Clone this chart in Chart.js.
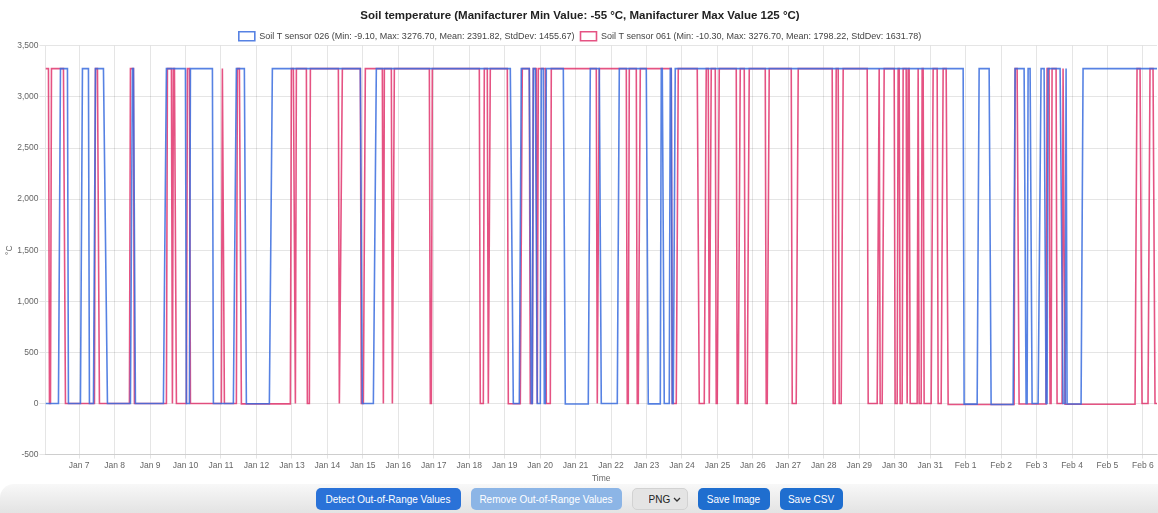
<!DOCTYPE html>
<html>
<head>
<meta charset="utf-8">
<script src="https://cdn.jsdelivr.net/npm/chart.js@4"></script>
<style>
  html, body { margin: 0; padding: 0; background: #fff; font-family: "Liberation Sans", Arial, sans-serif; }
  .chart-wrap { position: relative; width: 1158px; height: 484px; }
  .toolbar {
    position: absolute; left: 0; top: 484px; width: 1158px; height: 29px;
    background: linear-gradient(#f8f8f8, #e3e3e3);
    border-top-left-radius: 14px;
    display: flex; justify-content: center; align-items: flex-start; gap: 10px;
    box-sizing: border-box; padding-top: 4px;
  }
  .toolbar button, .toolbar select {
    height: 22px; border: none; border-radius: 5px; font-family: inherit; font-size: 10px;
    color: #fff; background: #2a72d8; padding: 0; white-space: nowrap;
  }
  .toolbar button.off { background: #8cb5e6; }
  .toolbar select {
    -webkit-appearance: none; appearance: none;
    background: #e4e4e4 url("data:image/svg+xml;utf8,<svg xmlns='http://www.w3.org/2000/svg' width='8' height='5'><path d='M1 1l3 3 3-3' fill='none' stroke='%23333' stroke-width='1.3'/></svg>") no-repeat right 6px center;
    color: #222; width: 56px; border: 1px solid #d2d2d2; padding-left: 16px;
  }
</style>
</head>
<body>
<div class="chart-wrap"><canvas id="soil"></canvas></div>
<div class="toolbar">
  <button style="width:145px">Detect Out-of-Range Values</button>
  <button class="off" style="width:151px">Remove Out-of-Range Values</button>
  <select><option>PNG</option></select>
  <button style="width:72px; background:#1f6ecf">Save Image</button>
  <button style="width:63px; background:#1f6ecf">Save CSV</button>
</div>
<script>
// time is given as day of January (32 = Feb 1), runs of constant reading
const dayTicks = [7, 8, 9, 10, 11, 12, 13, 14, 15, 16, 17, 18, 19, 20, 21, 22, 23, 24, 25, 26, 27, 28, 29, 30, 31, 32, 33, 34, 35, 36, 37];
const tickLabels = ['Jan 7', 'Jan 8', 'Jan 9', 'Jan 10', 'Jan 11', 'Jan 12', 'Jan 13', 'Jan 14', 'Jan 15', 'Jan 16',
  'Jan 17', 'Jan 18', 'Jan 19', 'Jan 20', 'Jan 21', 'Jan 22', 'Jan 23', 'Jan 24', 'Jan 25', 'Jan 26', 'Jan 27',
  'Jan 28', 'Jan 29', 'Jan 30', 'Jan 31', 'Feb 1', 'Feb 2', 'Feb 3', 'Feb 4', 'Feb 5', 'Feb 6'];

const blueFrom = [6.050, 6.473, 6.698, 7.093, 7.290, 7.460, 7.798, 8.503, 8.587, 9.461, 10.025, 10.138, 10.786, 11.434, 11.716,
  12.449, 14.986, 15.381, 19.244, 19.469, 19.751, 19.808, 19.920, 20.033, 20.118, 20.174, 20.710, 21.415, 21.725, 22.233,
  23.050, 23.417, 23.501, 23.670, 23.727, 23.811, 31.958, 32.381, 32.719, 33.396, 33.706, 33.762, 33.875, 34.128, 34.269,
  34.326, 34.748, 34.833, 34.861, 35.312];
const blueTo = [6.416, 6.670, 7.036, 7.262, 7.403, 7.685, 8.446, 8.531, 9.376, 9.997, 10.110, 10.758, 11.349, 11.659, 12.364,
  14.930, 15.297, 19.159, 19.413, 19.695, 19.780, 19.864, 20.005, 20.090, 20.146, 20.654, 21.358, 21.669, 22.176, 22.994,
  23.389, 23.445, 23.642, 23.698, 23.755, 31.930, 32.325, 32.663, 33.339, 33.649, 33.734, 33.818, 34.044, 34.213, 34.297,
  34.664, 34.805, 34.833, 35.256, 37.397];
const blueTemp = [0, 3276.7, 0, 3276.7, 0, 3276.7, 0, 3276.7, 0, 3276.7, 0, 3276.7, 0, 3276.7, -2.1,
  3276.7, 0, 3276.7, 0, 3276.7, 0, 3276.7, 0, 3276.7, 0, 3276.7, -4.5, 3276.7, 0, 3276.7,
  -3.2, 3276.7, 0, 3276.7, 0, 3276.7, -6.0, 3276.7, -9.1, 3276.7, 0, 3276.7, 0, 3276.7, 0,
  3276.7, 0, 3276.7, -5.4, 3276.7];

const redFrom = [6.050, 6.163, 6.219, 6.614, 7.460, 7.572, 8.446, 8.559, 9.489, 9.630, 9.658, 9.743, 10.053, 10.138, 11.039,
  11.096, 11.462, 11.575, 12.985, 13.098, 13.126, 13.436, 13.521, 14.338, 14.423, 14.958, 15.071, 15.579, 15.607, 15.833,
  15.889, 16.904, 16.960, 18.313, 18.426, 18.539, 18.595, 19.103, 19.497, 19.723, 19.808, 19.920, 19.949, 20.174, 20.315,
  21.612, 21.669, 22.458, 22.515, 22.740, 22.825, 23.727, 23.896, 24.488, 24.685, 24.770, 24.826, 24.967, 25.052, 25.559,
  25.644, 25.785, 25.898, 26.377, 26.461, 27.110, 27.279, 28.265, 28.350, 28.434, 28.547, 29.252, 29.562, 29.590, 29.703,
  30.013, 30.097, 30.154, 30.238, 30.351, 30.379, 30.436, 30.661, 30.689, 30.774, 30.830, 31.084, 31.225, 31.366, 31.507,
  33.396, 33.508, 34.297, 34.382, 34.438, 34.579, 34.748, 34.805, 36.834, 36.975, 37.200, 37.341];
const redTo = [6.134, 6.191, 6.557, 7.431, 7.516, 8.418, 8.531, 9.461, 9.602, 9.630, 9.687, 10.025, 10.110, 11.011, 11.039,
  11.434, 11.519, 12.956, 13.041, 13.098, 13.408, 13.492, 14.310, 14.338, 14.930, 15.015, 15.550, 15.579, 15.804, 15.833,
  16.876, 16.932, 18.285, 18.398, 18.510, 18.539, 19.075, 19.441, 19.695, 19.780, 19.892, 19.920, 20.146, 20.287, 21.584,
  21.612, 22.430, 22.486, 22.712, 22.768, 23.698, 23.839, 24.431, 24.629, 24.742, 24.770, 24.939, 24.995, 25.531, 25.587,
  25.757, 25.841, 26.349, 26.405, 27.082, 27.222, 28.237, 28.322, 28.406, 28.491, 29.224, 29.506, 29.562, 29.647, 29.985,
  30.069, 30.126, 30.210, 30.323, 30.351, 30.407, 30.633, 30.661, 30.746, 30.802, 31.028, 31.197, 31.310, 31.451, 33.367,
  33.452, 34.269, 34.354, 34.410, 34.551, 34.720, 34.748, 36.778, 36.919, 37.144, 37.285, 37.397];
const redTemp = [3276.7, 0, 3276.7, 0, 3276.7, 0, 3276.7, 0, 3276.7, 0, 3276.7, 0, 3276.7, 0, 3276.7,
  0, 3276.7, -3.4, 3276.7, 0, 3276.7, 0, 3276.7, 0, 3276.7, 0, 3276.7, 0, 3276.7, 0,
  3276.7, 0, 3276.7, 0, 3276.7, 0, 3276.7, -2.8, 3276.7, 0, 3276.7, 0, 3276.7, 0, 3276.7,
  0, 3276.7, 0, 3276.7, 0, 3276.7, 0, 3276.7, 0, 3276.7, 0, 3276.7, 0, 3276.7, 0,
  3276.7, 0, 3276.7, 0, 3276.7, 0, 3276.7, 0, 3276.7, 0, 3276.7, 0, 3276.7, 0, 3276.7,
  0, 3276.7, 0, 3276.7, 0, 3276.7, 0, 3276.7, 0, 3276.7, 0, 3276.7, 0, 3276.7, -10.3,
  3276.7, -4.2, 3276.7, 0, 3276.7, 0, 3276.7, -7.6, 3276.7, 0, 3276.7, 0];

const runsToPoints = (from, to, temp) => {
  const pts = [];
  from.forEach((f, i) => {
    pts.push({x: f, y: temp[i]});
    if (to[i] !== f) pts.push({x: to[i], y: temp[i]});
  });
  return pts;
};

const blue = 'rgba(58, 108, 222, 0.85)';
const pink = 'rgba(222, 40, 100, 0.8)';
const fontFamily = '"Liberation Sans", Arial, sans-serif';
const tickFont = {family: fontFamily, size: 8.5};

const chart = new Chart(document.getElementById('soil'), {
  type: 'line',
  data: {
    datasets: [{
      label: 'Soil T sensor 026 (Min: -9.10, Max: 3276.70, Mean: 2391.82, StdDev: 1455.67)',
      data: runsToPoints(blueFrom, blueTo, blueTemp),
      borderColor: blue,
      backgroundColor: '#fff',
      borderWidth: 1.6,
      pointRadius: 0,
    }, {
      label: 'Soil T sensor 061 (Min: -10.30, Max: 3276.70, Mean: 1798.22, StdDev: 1631.78)',
      data: runsToPoints(redFrom, redTo, redTemp),
      borderColor: pink,
      backgroundColor: '#fff',
      borderWidth: 1.6,
      pointRadius: 0,
    }]
  },
  options: {
    responsive: true,
    maintainAspectRatio: false,
    animation: false,
    layout: {padding: {left: 3, right: 1, top: 0, bottom: 0}},
    plugins: {
      title: {
        display: true,
        text: 'Soil temperature (Manifacturer Min Value: -55 °C, Manifacturer Max Value 125 °C)',
        color: '#222',
        font: {family: fontFamily, size: 11.5, weight: 'bold'},
        padding: {top: 9, bottom: 3},
      },
      legend: {
        labels: {
          color: '#444',
          boxWidth: 16,
          boxHeight: 9,
          padding: 6,
          font: {family: fontFamily, size: 9},
        }
      },
      tooltip: {enabled: false},
    },
    scales: {
      x: {
        type: 'linear',
        min: 6.05,
        max: 37.397,
        afterBuildTicks: axis => { axis.ticks = dayTicks.map(v => ({value: v})); },
        grid: {tickLength: 4},
        ticks: {
          autoSkip: false,
          maxRotation: 0,
          padding: 2,
          color: '#666',
          font: tickFont,
          callback: (v, i) => tickLabels[i],
        },
        title: {display: true, text: 'Time', color: '#666', font: tickFont, padding: {top: 1, bottom: 0}},
      },
      y: {
        min: -500,
        max: 3500,
        grid: {tickLength: 6},
        ticks: {stepSize: 500, padding: 1, color: '#666', font: tickFont},
        title: {display: true, text: '°C', color: '#666', font: tickFont, padding: {top: 2, bottom: 1}},
      }
    }
  }
});

// legend box a bit tighter at the bottom than chart.js leaves it
const legendFit = chart.legend.fit;
chart.legend.fit = function () {
  legendFit.call(this);
  this.height -= 5;
};
chart.update();
</script>
</body>
</html>
